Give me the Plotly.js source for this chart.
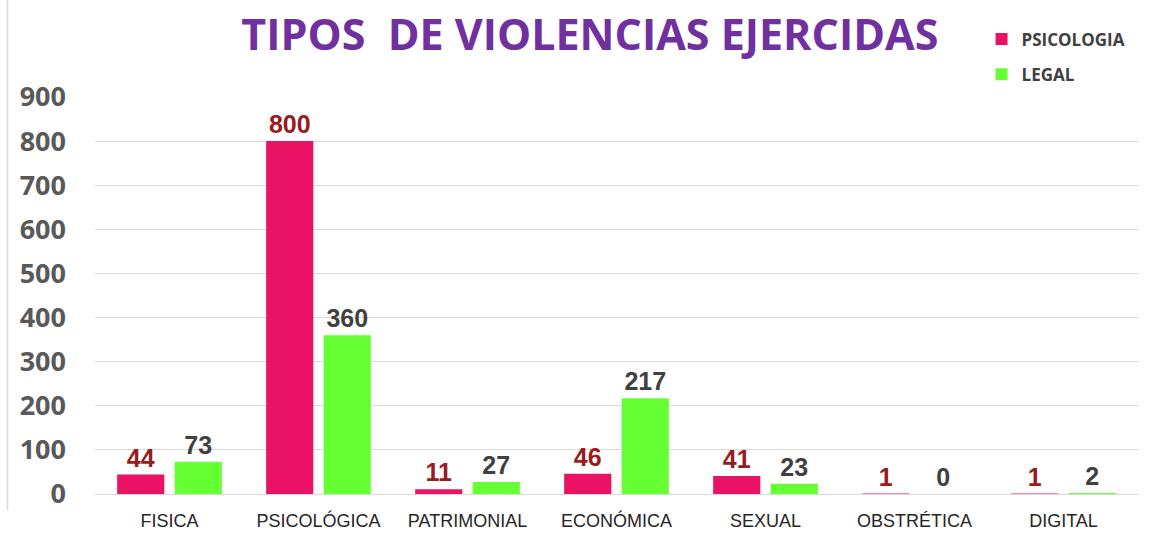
<!DOCTYPE html>
<html>
<head>
<meta charset="utf-8">
<script src="https://cdn.plot.ly/plotly-3.0.1.min.js"></script>
<style>html,body{margin:0;padding:0;background:#fff;}#chart{width:1175px;height:539px;}</style>
</head>
<body>
<div id="chart"></div>
<script>
const categories = ["FISICA", "PSICOLÓGICA", "PATRIMONIAL", "ECONÓMICA", "SEXUAL", "OBSTRÉTICA", "DIGITAL"];
const psicologia = [44, 800, 11, 46, 41, 1, 1];
const legal = [73, 360, 27, 217, 23, 0, 2];
const seriesNames = ["PSICOLOGIA", "LEGAL"];
const yTicks = [0, 100, 200, 300, 400, 500, 600, 700, 800, 900];

const pink = "#EA1264";
const green = "#66FF33";

const traces = [
  {
    type: "bar", name: seriesNames[0], x: categories, y: psicologia,
    marker: {color: pink}, legendgroup: "a",
    text: psicologia.map(String), textposition: "outside", cliponaxis: false,
    textfont: {family: "Liberation Sans, Arial", size: 25, color: "#9A1B1E", weight: "bold"},
    hoverinfo: "x+y"
  },
  {
    type: "bar", name: seriesNames[1], x: categories, y: legal,
    marker: {color: green}, legendgroup: "b",
    text: legal.map(String), textposition: "outside", cliponaxis: false,
    textfont: {family: "Liberation Sans, Arial", size: 25, color: "#404040", weight: "bold"},
    hoverinfo: "x+y"
  }
];

const layout = {
  width: 1175, height: 539,
  paper_bgcolor: "#ffffff", plot_bgcolor: "#ffffff",
  margin: {l: 95, r: 37, t: 97, b: 45},
  title: {
    text: "<b>TIPOS  DE VIOLENCIAS EJERCIDAS</b>",
    font: {family: "Open Sans", size: 43, color: "#7030A0"},
    x: 0.502, xanchor: "center", y: 0.935, yanchor: "middle"
  },
  barmode: "group", bargap: 0.228, bargroupgap: 0.18,
  showlegend: true,
  legend: {
    x: 0.85, xanchor: "left", y: 1.19, yanchor: "top",
    font: {family: "Open Sans", size: 17, color: "#404040", weight: "bold"},
    tracegroupgap: 10, itemwidth: 30, bgcolor: "rgba(0,0,0,0)"
  },
  xaxis: {
    type: "category", tickfont: {family: "Liberation Sans, Arial", size: 18, color: "#262626"},
    showline: false, ticks: "", showgrid: false, zeroline: false, ticklabelstandoff: 14
  },
  yaxis: {
    range: [0, 900], tickvals: yTicks, ticktext: yTicks.map(String),
    tickfont: {family: "Open Sans", size: 27, color: "#595959", weight: "bold"},
    showgrid: true, gridcolor: "#D9D9D9", gridwidth: 1,
    zeroline: true, zerolinecolor: "#D9D9D9", zerolinewidth: 1,
    showline: false, ticks: "", ticklabelstandoff: 28
  },
  shapes: [
    {type: "line", xref: "paper", yref: "paper", x0: -0.084, x1: -0.084, y0: -0.04, y1: 1.25,
     line: {color: "#E0E0E0", width: 2}}
  ]
};

Plotly.newPlot("chart", traces, layout, {displayModeBar: false, staticPlot: true});
</script>
</body>
</html>
